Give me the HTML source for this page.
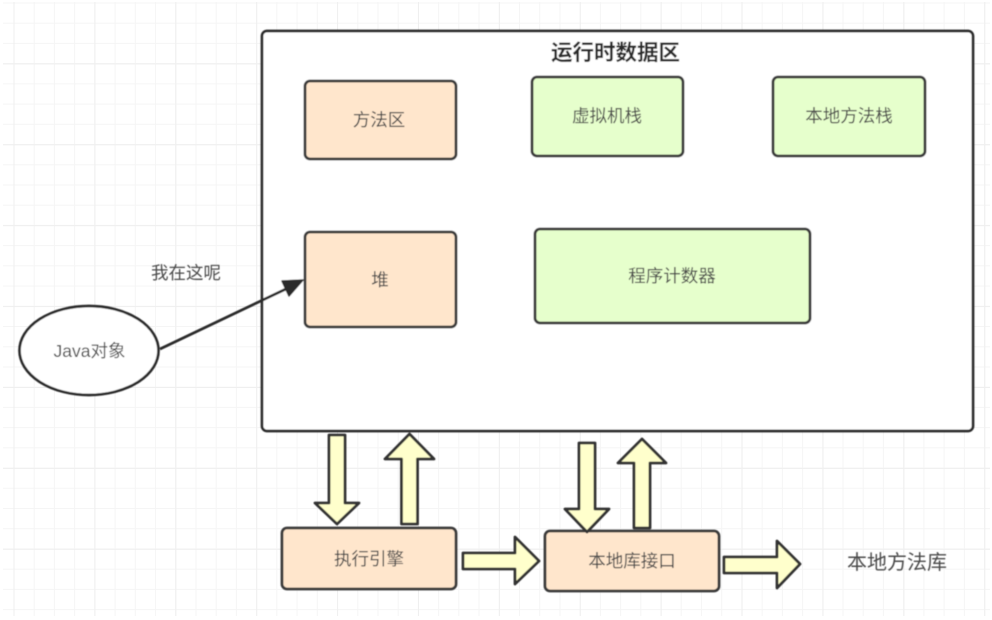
<!DOCTYPE html>
<html>
<head>
<meta charset="utf-8">
<style>
html,body{margin:0;padding:0;background:#fff;width:992px;height:620px;overflow:hidden}
svg{display:block}
text{font-family:"Liberation Sans","Noto Sans CJK SC",sans-serif;text-anchor:middle;dominant-baseline:central}
</style>
</head>
<body>
<svg width="992" height="620" viewBox="0 0 992 620" xmlns="http://www.w3.org/2000/svg">
<defs>
<pattern id="minor" width="20.22" height="20.22" patternUnits="userSpaceOnUse" patternTransform="translate(13.5 2.5)">
<path d="M0.5 0V20.22M0 0.5H20.22" fill="none" stroke="#f5f5f5" stroke-width="1"/>
</pattern>
<pattern id="major" width="80.9" height="80.9" patternUnits="userSpaceOnUse" patternTransform="translate(13.5 -17.5)">
<path d="M0.5 0V80.9M0 0.5H80.9" fill="none" stroke="#efefef" stroke-width="1"/>
</pattern>
<filter id="soft" x="-2%" y="-2%" width="104%" height="104%"><feGaussianBlur stdDeviation="0.5"/></filter>
</defs>
<rect x="3" y="2" width="987" height="614" fill="url(#minor)"/>
<rect x="3" y="2" width="987" height="614" fill="url(#major)"/>
<g filter="url(#soft)">
<rect x="262" y="31" width="711" height="400" rx="5" fill="#fff" stroke="#2a2a2a" stroke-width="2.7"/>
<g stroke="#3a3a3a" stroke-width="2.8" stroke-linejoin="round">
<rect x="305" y="81" width="151" height="78" rx="5" fill="#ffe6cc"/>
<rect x="305" y="232" width="151" height="95" rx="5" fill="#ffe6cc"/>
<rect x="532" y="77" width="151" height="79" rx="5" fill="#e6ffcc"/>
<rect x="773" y="77" width="152" height="79" rx="5" fill="#e6ffcc"/>
<rect x="535" y="229" width="275" height="94" rx="5" fill="#e6ffcc"/>
<rect x="282" y="528" width="174" height="61" rx="5" fill="#ffe6cc"/>
<rect x="545" y="531" width="174" height="60" rx="5" fill="#ffe6cc"/>
</g>
<ellipse cx="89" cy="350.500" rx="69.500" ry="44.500" fill="#fff" stroke="#2a2a2a" stroke-width="2.700"/>
<line x1="160" y1="349" x2="288" y2="288" stroke="#2a2a2a" stroke-width="2.700"/>
<polygon points="303,280 282,281 289,296" fill="#2a2a2a" stroke="#2a2a2a" stroke-width="1.500" stroke-linejoin="round"/>
<g fill="#ffffcc" stroke="#333" stroke-width="2.800" stroke-linejoin="round">
<polygon points="329,435 345,435 345,503 359,503 337,524 315,503 329,503"/>
<polygon points="401.500,524 417.500,524 417.500,459 434,459 409.500,434 385,459 401.500,459"/>
<polygon points="463,553 515,553 515,537 539,561 515,584 515,569 463,569"/>
<polygon points="579,443 595,443 595,509 609,509 587,532 565,509 579,509"/>
<polygon points="634,528 650,528 650,463 666,463 642,439 618,463 634,463"/>
<polygon points="724,557 777,557 777,541 800,564 777,588 777,573 724,573"/>
</g>
<g font-size="17.500" fill="#4a4a4a">
<text x="379" y="120">方法区</text>
<text x="607" y="116">虚拟机栈</text>
<text x="849" y="116">本地方法栈</text>
<text x="380" y="280">堆</text>
<text x="672" y="276">程序计数器</text>
<text x="186" y="273">我在这呢</text>
<text x="89.500" y="351">Java对象</text>
<text x="369" y="559">执行引擎</text>
<text x="632" y="561">本地库接口</text>
<text x="897" y="563" font-size="20">本地方法库</text>
<text x="615.500" y="53" font-size="21.500" font-weight="bold" fill="#2a2a2a">运行时数据区</text>
</g>
</g>
</svg>
</body>
</html>
